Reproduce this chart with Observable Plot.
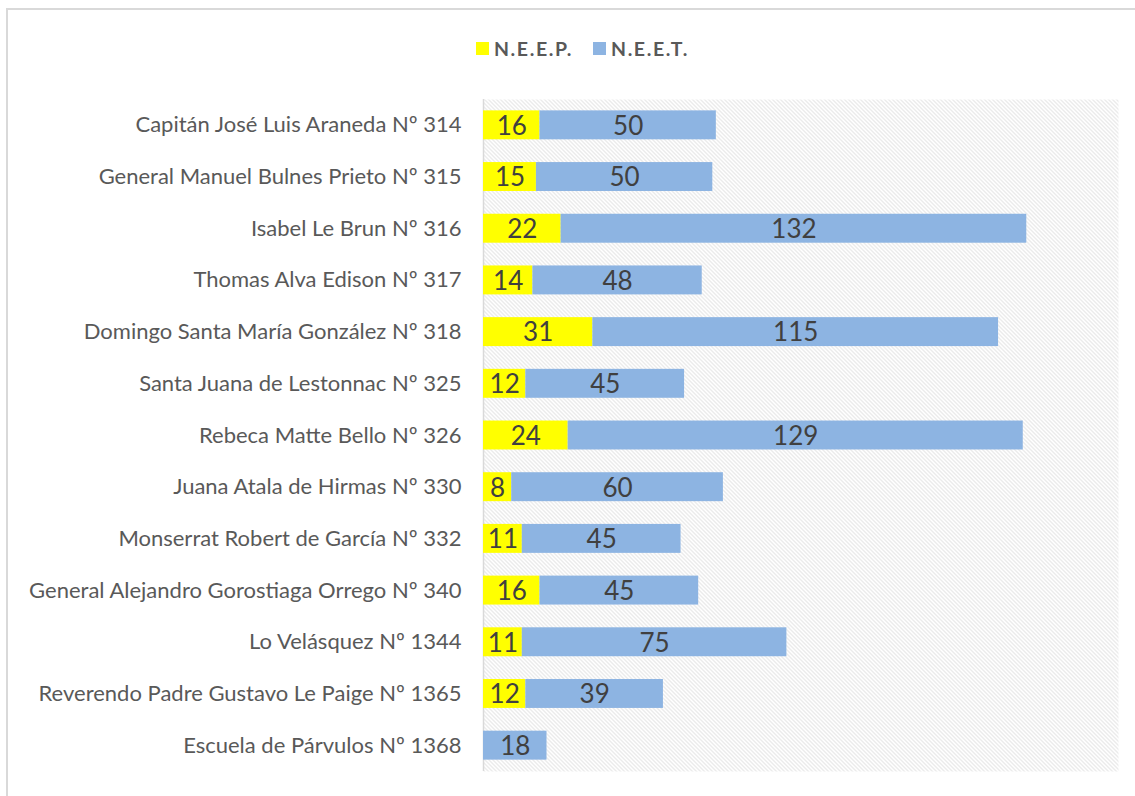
<!DOCTYPE html>
<html><head><meta charset="utf-8">
<script src="https://cdn.jsdelivr.net/npm/d3@7"></script>
<script src="https://cdn.jsdelivr.net/npm/@observablehq/plot@0.6"></script>
<style>
body{margin:0;background:#fff;font-family:Lato,sans-serif;}
#frameLines{position:absolute;left:6px;top:8px;width:1129px;height:788px;border-top:2px solid #d9d9d9;border-left:2px solid #d9d9d9;box-sizing:border-box;pointer-events:none;}
#legend{height:75px;box-sizing:border-box;padding-top:21px;padding-left:476px;display:flex;align-items:center;font-weight:bold;font-size:19.5px;letter-spacing:1.6px;color:#595959;}
#legend .sw{width:13px;height:13px;display:inline-block;margin-right:5px;}
#legend .item{display:flex;align-items:center;margin-right:20px;}
#chart svg{display:block;}
</style>
</head><body>
<div id="frameLines"></div>
<div id="legend"></div>
<div id="chart"></div>
<script>
const schools = [
  "Capitán José Luis Araneda Nº 314",
  "General Manuel Bulnes Prieto Nº 315",
  "Isabel Le Brun Nº 316",
  "Thomas Alva Edison Nº 317",
  "Domingo Santa María González Nº 318",
  "Santa Juana de Lestonnac Nº 325",
  "Rebeca Matte Bello Nº 326",
  "Juana Atala de Hirmas Nº 330",
  "Monserrat Robert de García Nº 332",
  "General Alejandro Gorostiaga Orrego Nº 340",
  "Lo Velásquez Nº 1344",
  "Reverendo Padre Gustavo Le Paige Nº 1365",
  "Escuela de Párvulos Nº 1368"
];
const neep = [16, 15, 22, 14, 31, 12, 24, 8, 11, 16, 11, 12, null];
const neet = [50, 50, 132, 48, 115, 45, 129, 60, 45, 45, 75, 39, 18];
const seriesNames = ["N.E.E.P.", "N.E.E.T."];
const seriesColors = ["#FFFF00", "#8DB4E2"];

const data = [];
schools.forEach((s, i) => {
  if (neep[i] != null) data.push({school: s, series: seriesNames[0], value: neep[i]});
  if (neet[i] != null) data.push({school: s, series: seriesNames[1], value: neet[i]});
});

const legend = document.getElementById("legend");
seriesNames.forEach((n, i) => {
  const it = document.createElement("span");
  it.className = "item";
  it.innerHTML = `<span class="sw" style="background:${seriesColors[i]}"></span><span>${n}</span>`;
  legend.appendChild(it);
});

const chart = Plot.plot({
  width: 1135,
  height: 721,
  marginTop: 24,
  marginBottom: 25,
  marginLeft: 483,
  marginRight: 17,
  style: {fontFamily: "Lato, sans-serif", background: "transparent"},
  x: {domain: [0, 180], axis: null},
  y: {domain: schools, paddingInner: 0.44, paddingOuter: 0.22, round: false, label: null},
  color: {domain: seriesNames, range: seriesColors},
  marks: [
    Plot.frame({fill: "url(#hatch)", stroke: "none"}),
    Plot.ruleX([0], {stroke: "#d9d9d9", strokeWidth: 1.5}),
    Plot.barX(data, Plot.stackX({x: "value", y: "school", fill: "series", order: seriesNames})),
    Plot.text(data, Plot.stackX({x: "value", y: "school", z: "series", order: seriesNames, text: d => String(d.value), fill: "#404040", fontSize: 26, dy: 1})),
    Plot.axisY({tickSize: 0, tickPadding: 22, fontSize: 22, fill: "#595959", label: null})
  ]
});

const ns = "http://www.w3.org/2000/svg";
const defs = document.createElementNS(ns, "defs");
defs.innerHTML = `<pattern id="hatch" patternUnits="userSpaceOnUse" width="4" height="4">
  <rect width="4" height="4" fill="#ffffff"/>
  <path d="M-1,-1 L1,1 M0,0 L4,4 M3,3 L5,5" stroke="#d6d6d6" stroke-width="1"/>
</pattern>`;
chart.insertBefore(defs, chart.firstChild);
document.getElementById("chart").appendChild(chart);
</script>
</body></html>
